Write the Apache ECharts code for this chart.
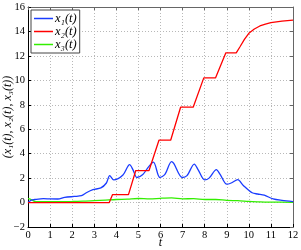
<!DOCTYPE html>
<html><head><meta charset="utf-8">
<script src="https://cdn.jsdelivr.net/npm/echarts/dist/echarts.min.js"></script>
<style>html,body{margin:0;padding:0;background:#fff}#c{width:301px;height:250px}</style>
</head><body><div id="c"></div>
<script>
// x1(t) blue
const t1 = [0,0.15,0.3,0.7,1.0,1.35,1.66,2.1,2.42,2.64,2.94,3.3,3.55,3.7,3.88,4.3,4.6,4.75,4.93,5.2,5.45,5.68,5.97,6.2,6.5,6.6,6.98,7.2,7.53,7.7,8.0,8.2,8.53,8.7,9.0,9.2,9.5,9.75,10.15,10.4,10.7,11.1,11.5,12];
const x1 = [0.0,0.2,0.25,0.32,0.3,0.29,0.42,0.5,0.56,0.8,1.05,1.2,1.6,2.2,1.85,2.25,3.1,2.7,2.05,2.3,2.9,3.3,2.05,2.3,3.35,3.2,2.05,2.2,3.15,2.7,1.85,2.0,2.7,2.3,1.5,1.6,1.87,1.4,0.8,0.7,0.6,0.3,0.18,0.08];
// x2(t) red
const t2 = [0,3.68,3.83,4.55,4.88,5.48,5.93,6.46,6.91,7.48,7.96,8.49,8.96,9.43,9.6,9.8,10.0,10.25,10.5,10.75,11.0,11.5,12];
const x2 = [0,0,0.65,0.65,2.62,2.62,5.1,5.1,7.8,7.8,10.2,10.2,12.25,12.25,12.75,13.35,13.85,14.2,14.45,14.6,14.72,14.85,14.93];
// x3(t) green
const t3 = [0,0.1,0.35,1,2,2.5,3,3.5,4,4.5,5,5.5,6,6.5,7,7.5,8,8.5,9,9.5,10,10.5,11,12];
const x3 = [0.32,0.28,0.08,0.08,0.09,0.11,0.15,0.2,0.25,0.28,0.33,0.3,0.35,0.38,0.3,0.32,0.25,0.25,0.18,0.15,0.1,0.06,0.04,0.02];

const xTicks = [0,1,2,3,4,5,6,7,8,9,10,11,12];
const yTicks = [-2,0,2,4,6,8,10,12,14,16];
const names = ['x\u2081(t)','x\u2082(t)','x\u2083(t)'];

const pair = (t, v) => t.map((x, i) => [x, v[i]]);
const serif = 'Liberation Serif';
const fmtNum = v => (v < 0 ? '\u2212' + Math.abs(v) : String(v));

const chart = echarts.init(document.getElementById('c'), null, {renderer: 'canvas'});
const gridLine = {show: true, lineStyle: {color: '#b8b8b8', type: [1, 2], width: 1}};
chart.setOption({
  animation: false,
  backgroundColor: '#fff',
  grid: {left: 28, right: 8, top: 7, bottom: 23, show: false, containLabel: false, outerBoundsMode: 'none'},
  legend: {
    orient: 'vertical', left: 31, top: 10,
    backgroundColor: '#fff', borderColor: '#444', borderWidth: 1,
    padding: [2, 3, 2, 3], itemGap: 0, itemWidth: 19, itemHeight: 1.5,
    icon: 'rect',
    textStyle: {fontFamily: serif, fontStyle: 'italic', fontSize: 12.5, color: '#000', lineHeight: 12, padding: [0, 0, 0, -3]},
    data: names
  },
  xAxis: [{
    type: 'value', min: 0, max: 12, interval: 1,
    name: 't', nameLocation: 'middle', nameGap: 10, nameMoveOverlap: false,
    nameTextStyle: {fontFamily: serif, fontStyle: 'italic', fontSize: 12, color: '#000', verticalAlign: 'top'},
    axisLine: {show: true, onZero: false, lineStyle: {color: '#000', width: 1}},
    axisTick: {show: true, inside: true, length: 3, lineStyle: {color: '#000'}},
    axisLabel: {fontFamily: serif, fontSize: 10.5, color: '#000', margin: 3, formatter: fmtNum, customValues: xTicks},
    splitLine: gridLine
  }, {
    type: 'value', min: 0, max: 12, interval: 1, position: 'top',
    axisLine: {show: true, onZero: false, lineStyle: {color: '#666', width: 1}},
    axisTick: {show: true, inside: true, length: 3, lineStyle: {color: '#666'}},
    axisLabel: {show: false}, splitLine: {show: false}
  }],
  yAxis: [{
    type: 'value', min: -2, max: 16, interval: 2,
    name: '(x\u2081(t), x\u2082(t), x\u2083(t))', nameLocation: 'middle', nameGap: 14, nameMoveOverlap: false,
    nameTextStyle: {fontFamily: serif, fontStyle: 'italic', fontSize: 12, color: '#000'},
    axisLine: {show: true, onZero: false, lineStyle: {color: '#000', width: 1}},
    axisTick: {show: true, inside: true, length: 3, lineStyle: {color: '#000'}},
    axisLabel: {fontFamily: serif, fontSize: 10.5, color: '#000', margin: 3, formatter: fmtNum},
    splitLine: gridLine
  }, {
    type: 'value', min: -2, max: 16, interval: 2, position: 'right',
    axisLine: {show: true, onZero: false, lineStyle: {color: '#666', width: 1}},
    axisTick: {show: true, inside: true, length: 3, lineStyle: {color: '#666'}},
    axisLabel: {show: false}, splitLine: {show: false}
  }],
  series: [
    {name: names[0], type: 'line', data: pair(t1, x1), showSymbol: false, smooth: 0.3,
     lineStyle: {color: '#1a3cff', width: 1.3}, itemStyle: {color: '#1a3cff'}, z: 3},
    {name: names[1], type: 'line', data: pair(t2, x2), showSymbol: false,
     lineStyle: {color: '#ff0000', width: 1.3}, itemStyle: {color: '#ff0000'}, z: 4},
    {name: names[2], type: 'line', data: pair(t3, x3), showSymbol: false, smooth: 0.3,
     lineStyle: {color: '#33ee00', width: 1.3}, itemStyle: {color: '#33ee00'}, z: 2}
  ]
});
</script></body></html>
